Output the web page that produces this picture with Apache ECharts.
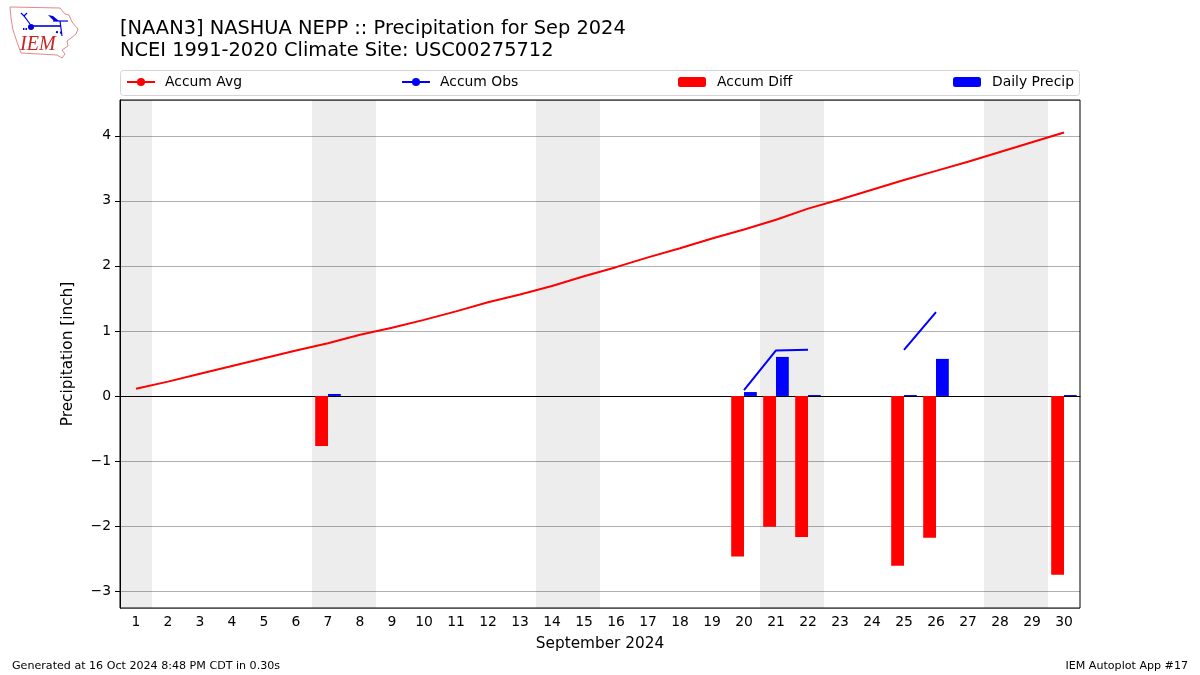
<!DOCTYPE html>
<html>
<head>
<meta charset="utf-8">
<style>html,body{margin:0;padding:0;background:#fff}#c{width:1200px;height:675px}</style>
<script src="https://cdn.jsdelivr.net/npm/echarts@6/dist/echarts.min.js"></script>
</head>
<body>
<div id="c"></div>
<script>
const days = ['1','2','3','4','5','6','7','8','9','10','11','12','13','14','15','16','17','18','19','20','21','22','23','24','25','26','27','28','29','30'];
const accumAvg = [0.11,0.22,0.34,0.46,0.58,0.70,0.81,0.94,1.05,1.17,1.30,1.44,1.56,1.69,1.84,1.98,2.13,2.27,2.42,2.56,2.71,2.88,3.02,3.17,3.32,3.46,3.60,3.75,3.90,4.05];
const accumObs = [null,null,null,null,null,null,null,null,null,null,null,null,null,null,null,null,null,null,null,0.09,0.70,0.71,null,null,0.71,1.29,null,null,null,null];
const accumDiff = [null,null,null,null,null,null,-0.77,null,null,null,null,null,null,null,null,null,null,null,null,-2.47,-2.01,-2.17,null,null,-2.61,-2.18,null,null,null,-2.75];
const dailyPrecip = [null,null,null,null,null,null,0.03,null,null,null,null,null,null,null,null,null,null,null,null,0.06,0.60,0.015,null,null,0.015,0.57,null,null,null,0.015];
const weekendBands = [[0.5,1.5],[6.5,8.5],[13.5,15.5],[20.5,22.5],[27.5,29.5]];
const FONT = 'DejaVu Sans';

const legendAt = (name, left, padLeft) => ({
  data: [name], left, top: 75, itemWidth: 28, itemHeight: 10, padding: 0,
  selectedMode: false,
  textStyle: { fontFamily: FONT, fontSize: 13.9, color: '#000', padding: [0, 0, 0, padLeft] }
});

const chart = echarts.init(document.getElementById('c'), null, { renderer: 'canvas' });
chart.setOption({
  animation: false,
  backgroundColor: '#fff',
  textStyle: { fontFamily: FONT },
  title: [
    { text: '[NAAN3] NASHUA NEPP :: Precipitation for Sep 2024\nNCEI 1991-2020 Climate Site: USC00275712',
      left: 120, top: 18, padding: 0,
      textStyle: { fontFamily: FONT, fontSize: 19.4, fontWeight: 'normal', color: '#000', lineHeight: 22 } },
    { text: 'Generated at 16 Oct 2024 8:48 PM CDT in 0.30s', left: 12, top: 661, padding: 0,
      textStyle: { fontFamily: FONT, fontSize: 11.1, fontWeight: 'normal', color: '#000' } },
    { text: 'IEM Autoplot App #17', right: 12, top: 661, padding: 0,
      textStyle: { fontFamily: FONT, fontSize: 11.1, fontWeight: 'normal', color: '#000' } }
  ],
  legend: [
    legendAt('Accum Avg', 126, 5),
    legendAt('Accum Obs', 401, 5),
    legendAt('Accum Diff', 678, 6),
    legendAt('Daily Precip', 953, 6)
  ],
  grid: { left: 120, right: 120, top: 100, bottom: 67, show: true, borderColor: '#000', borderWidth: 1, backgroundColor: 'transparent', z: 5 },
  xAxis: [
    { type: 'category', data: days, boundaryGap: true,
      name: 'September 2024', nameLocation: 'middle', nameGap: 29,
      nameTextStyle: { fontFamily: FONT, fontSize: 15.3, color: '#000' },
      axisLine: { lineStyle: { color: '#000', width: 1 } },
      axisTick: { alignWithLabel: true, length: 5, lineStyle: { color: '#000', width: 1 } },
      axisLabel: { interval: 0, margin: 7, fontFamily: FONT, fontSize: 13.9, color: '#000' },
      splitLine: { show: false } },
    { type: 'value', min: 0.5, max: 30.5, show: false, splitLine: { show: false } }
  ],
  yAxis: {
    type: 'value', min: -3.26, max: 4.55, splitNumber: 8,
    name: 'Precipitation [inch]', nameLocation: 'middle', nameGap: 44,
    nameTextStyle: { fontFamily: FONT, fontSize: 15.3, color: '#000' },
    axisLine: { show: true, onZero: false, lineStyle: { color: '#000', width: 1 } },
    axisTick: { show: true, length: 5, lineStyle: { color: '#000', width: 1 } },
    axisLabel: { showMinLabel: false, showMaxLabel: false, margin: 9, fontFamily: FONT, fontSize: 13.9, color: '#000',
      formatter: v => String(v).replace('-', '\u2212') },
    splitLine: { show: true, lineStyle: { color: '#b0b0b0', width: 1 } }
  },
  series: [
    { name: 'Weekend', type: 'line', xAxisIndex: 1, data: [], silent: true,
      markArea: { silent: true, itemStyle: { color: 'rgba(0,0,0,0.07)' },
        data: weekendBands.map(b => [{ xAxis: b[0] }, { xAxis: b[1] }]) } },
    { name: 'Accum Diff', type: 'bar', data: accumDiff, barWidth: 12.8, barGap: 0, itemStyle: { color: '#ff0000' }, z: 3 },
    { name: 'Daily Precip', type: 'bar', data: dailyPrecip, barWidth: 12.8, barGap: 0, itemStyle: { color: '#0000ff' }, z: 3 },
    { name: 'Accum Avg', type: 'line', data: accumAvg, symbol: 'none', lineStyle: { color: '#ff0000', width: 2 }, itemStyle: { color: '#ff0000' }, z: 4 },
    { name: 'Accum Obs', type: 'line', data: accumObs, symbol: 'none', connectNulls: false, lineStyle: { color: '#0000ff', width: 2 }, itemStyle: { color: '#0000ff' }, z: 4 }
  ],
  graphic: [
    { type: 'rect', z: -1, shape: { x: 120.5, y: 70.5, width: 959, height: 25, r: 3 }, style: { fill: '#fff', stroke: '#d4d4d4', lineWidth: 1 } },
    { type: 'polygon', shape: { points: [[10,7],[60,8],[65,14],[69,15],[72,22],[78,29],[76,34],[71,38],[67,41],[68,46],[62,50],[65,54],[62,58],[57,55],[21,53],[17,42],[13,30],[11,18]] },
      style: { fill: '#fff', stroke: '#e08a8a', lineWidth: 1 } },
    { type: 'polyline', shape: { points: [[31,26],[61,26]] }, style: { stroke: '#0000dd', lineWidth: 1.6, fill: null } },
    { type: 'circle', shape: { cx: 31, cy: 27, r: 3 }, style: { fill: '#0000dd' } },
    { type: 'polyline', shape: { points: [[30,24],[24,16],[21,13]] }, style: { stroke: '#0000dd', lineWidth: 1.2, fill: null } },
    { type: 'polyline', shape: { points: [[24,16],[27,13]] }, style: { stroke: '#0000dd', lineWidth: 1.2, fill: null } },
    { type: 'polygon', shape: { points: [[48,15],[53,16],[59,21],[54,21]] }, style: { fill: '#0000dd' } },
    { type: 'polyline', shape: { points: [[53,21],[68,21]] }, style: { stroke: '#0000dd', lineWidth: 1.2, fill: null } },
    { type: 'polyline', shape: { points: [[60,21],[62,36]] }, style: { stroke: '#0000dd', lineWidth: 1.2, fill: null } },
    { type: 'polyline', shape: { points: [[56,32],[64,33]] }, style: { stroke: '#0000dd', lineWidth: 2, lineDash: [2,2], fill: null } },
    { type: 'polyline', shape: { points: [[23,29],[27,29]] }, style: { stroke: '#0000dd', lineWidth: 2, lineDash: [1.5,1], fill: null } },
    { type: 'text', left: 20, top: 35, style: { text: 'IEM', fill: '#cc2222', fontFamily: 'Liberation Serif', fontStyle: 'italic', fontSize: 20 } }
  ]
});
</script>
</body>
</html>
